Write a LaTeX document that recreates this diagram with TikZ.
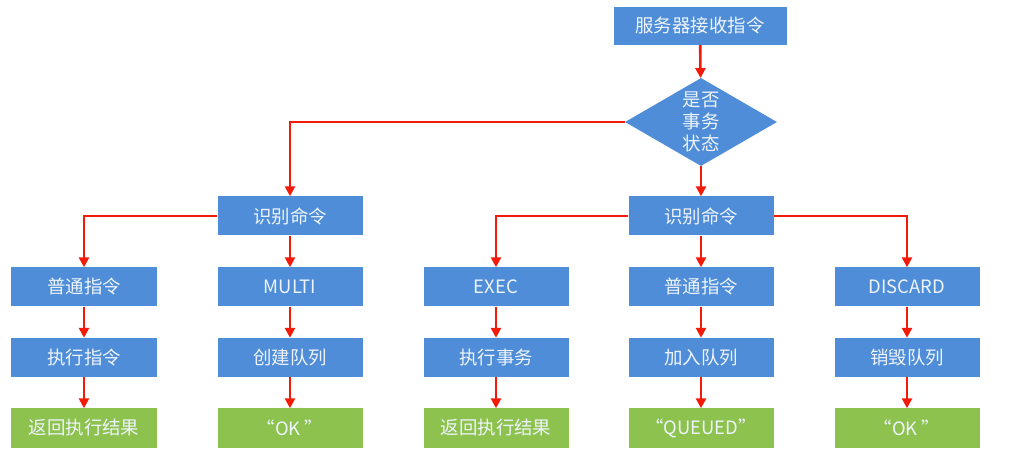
\documentclass[tikz,border=0pt]{standalone}
\usepackage{fontspec}
\setmainfont{Noto Sans CJK SC}
\usetikzlibrary{arrows.meta,positioning,shapes.geometric}
\definecolor{flowblue}{HTML}{4F8DD8}
\definecolor{flowgreen}{HTML}{8DC24F}
\definecolor{flowred}{HTML}{F41A0A}
\definecolor{flowtext}{HTML}{EEF4FB}
\tikzset{
  bx/.style={align=center, inner sep=0pt, text=flowtext, font=\fontsize{18.5}{22}\selectfont, minimum width=145bp, minimum height=39bp},
  op/.style={bx, fill=flowblue},
  res/.style={bx, fill=flowgreen},
  dec/.style={bx, diamond, fill=flowblue, aspect=1.75, minimum width=152bp, minimum height=88bp},
  arr/.style={-{Triangle[length=10bp,width=10bp]}, line width=2.6bp, color=flowred},
}
\begin{document}
\begin{tikzpicture}[x=1bp, y=-1bp]
  \useasboundingbox[fill=white] (0,0) rectangle (1026,476);
  % top and decision
  \node[op, minimum width=173bp, minimum height=38bp] (recv) at (700,26) {服务器接收指令};
  \node[dec] (istx) at (701,122) {是否\\事务\\状态};
  \node[op] (idl) at (290,216) {识别命令};
  \node[op] (idr) at (701,216) {识别命令};
  \draw[arr] (recv) -- (istx);
  \draw[arr] (istx.west) -| (idl);
  \draw[arr] (istx) -- (idr);
  % no transaction
  \node[op] (cmdA) at (84,287) {普通指令};
  \node[op] (runA) at (84,357.5) {执行指令};
  \node[res] (retA) at (84,428) {返回执行结果};
  \node[op] (multi) at (290,287) {MULTI};
  \node[op] (mkq) at (290,357.5) {创建队列};
  \node[res] (okA) at (290,428) {“OK ”};
  \draw[arr] (idl.west) -| (cmdA);
  \draw[arr] (idl) -- (multi);
  % in transaction
  \node[op] (exec) at (496,287) {EXEC};
  \node[op] (runtx) at (496,357.5) {执行事务};
  \node[res] (retB) at (496,428) {返回执行结果};
  \node[op] (cmdB) at (701,287) {普通指令};
  \node[op] (addq) at (701,357.5) {加入队列};
  \node[res] (queued) at (701,428) {“QUEUED”};
  \node[op] (discard) at (907,287) {DISCARD};
  \node[op] (delq) at (907,357.5) {销毁队列};
  \node[res] (okB) at (907,428) {“OK ”};
  \draw[arr] (idr.west) -| (exec);
  \draw[arr] (idr) -- (cmdB);
  \draw[arr] (idr.east) -| (discard);
  \foreach \a/\b in {cmdA/runA, runA/retA, multi/mkq, mkq/okA, exec/runtx, runtx/retB,
                     cmdB/addq, addq/queued, discard/delq, delq/okB}
    \draw[arr] (\a) -- (\b);
\end{tikzpicture}
\end{document}
